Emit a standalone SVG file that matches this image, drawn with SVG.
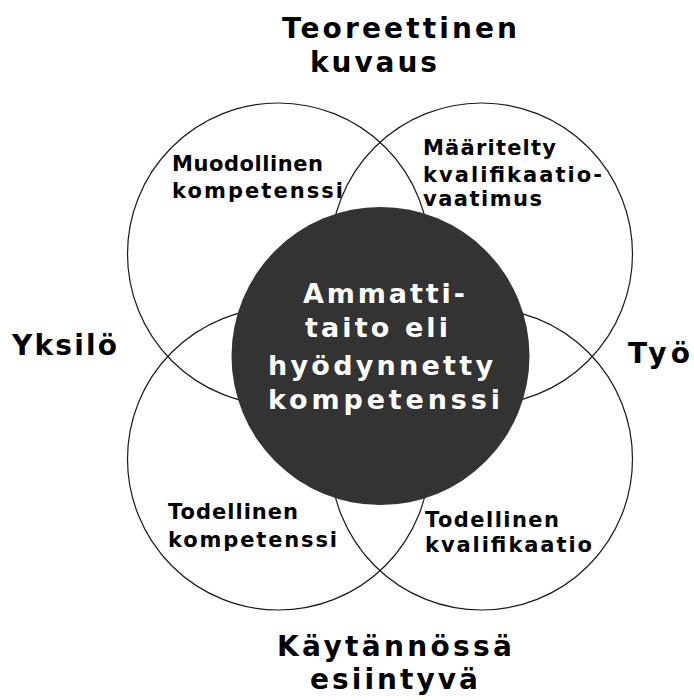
<svg xmlns="http://www.w3.org/2000/svg" width="694" height="700" viewBox="0 0 694 700">
<style>
.ring{fill:none;stroke:#1a1a1a;stroke-width:1.2}
.core{fill:#333333;stroke:none}
.big{font-family:"DejaVu Sans","Liberation Sans",sans-serif;font-weight:bold;font-size:28px;fill:#000}
.small{font-family:"DejaVu Sans","Liberation Sans",sans-serif;font-weight:bold;font-size:21px;fill:#000}
.mid{font-family:"DejaVu Sans","Liberation Sans",sans-serif;font-weight:bold;font-size:27px;fill:#fff}
</style>
<rect width="694" height="700" fill="#fff"/>
<g id="circle-top-left">
<circle class="ring" cx="278.5" cy="254" r="151"/>
<text class="small" x="172" y="171" textLength="151" lengthAdjust="spacing">Muodollinen</text>
<text class="small" x="172" y="198" textLength="171" lengthAdjust="spacing">kompetenssi</text>
</g>
<g id="circle-top-right">
<circle class="ring" cx="481.5" cy="254" r="151"/>
<text class="small" x="423" y="155" textLength="133" lengthAdjust="spacing">Määritelty</text>
<text class="small" x="423" y="182" textLength="179" lengthAdjust="spacing">kvalifikaatio-</text>
<text class="small" x="423" y="206" textLength="119" lengthAdjust="spacing">vaatimus</text>
</g>
<g id="circle-bottom-left">
<circle class="ring" cx="278.5" cy="459" r="151"/>
<text class="small" x="168" y="519" textLength="130" lengthAdjust="spacing">Todellinen</text>
<text class="small" x="168" y="547" textLength="169" lengthAdjust="spacing">kompetenssi</text>
</g>
<g id="circle-bottom-right">
<circle class="ring" cx="481.5" cy="459" r="151"/>
<text class="small" x="425" y="527" textLength="134" lengthAdjust="spacing">Todellinen</text>
<text class="small" x="425" y="552" textLength="167" lengthAdjust="spacing">kvalifikaatio</text>
</g>
<g id="core">
<circle class="core" cx="380.5" cy="356" r="149"/>
<text class="mid" x="303" y="303" textLength="162" lengthAdjust="spacing">Ammatti-</text>
<text class="mid" x="305" y="337" textLength="143" lengthAdjust="spacing">taito eli</text>
<text class="mid" x="268" y="375" textLength="225" lengthAdjust="spacing">hyödynnetty</text>
<text class="mid" x="268" y="409" textLength="232" lengthAdjust="spacing">kompetenssi</text>
</g>
<g id="label-top">
<text class="big" x="282" y="38" textLength="235" lengthAdjust="spacing">Teoreettinen</text>
<text class="big" x="310" y="72" textLength="127" lengthAdjust="spacing">kuvaus</text>
</g>
<g id="label-left">
<text class="big" x="12" y="355" textLength="105" lengthAdjust="spacing">Yksilö</text>
</g>
<g id="label-right">
<text class="big" x="628" y="363" textLength="62" lengthAdjust="spacing">Työ</text>
</g>
<g id="label-bottom">
<text class="big" x="277" y="656" textLength="235" lengthAdjust="spacing">Käytännössä</text>
<text class="big" x="310" y="689" textLength="168" lengthAdjust="spacing">esiintyvä</text>
</g>
<g id="connectors"/>
</svg>
